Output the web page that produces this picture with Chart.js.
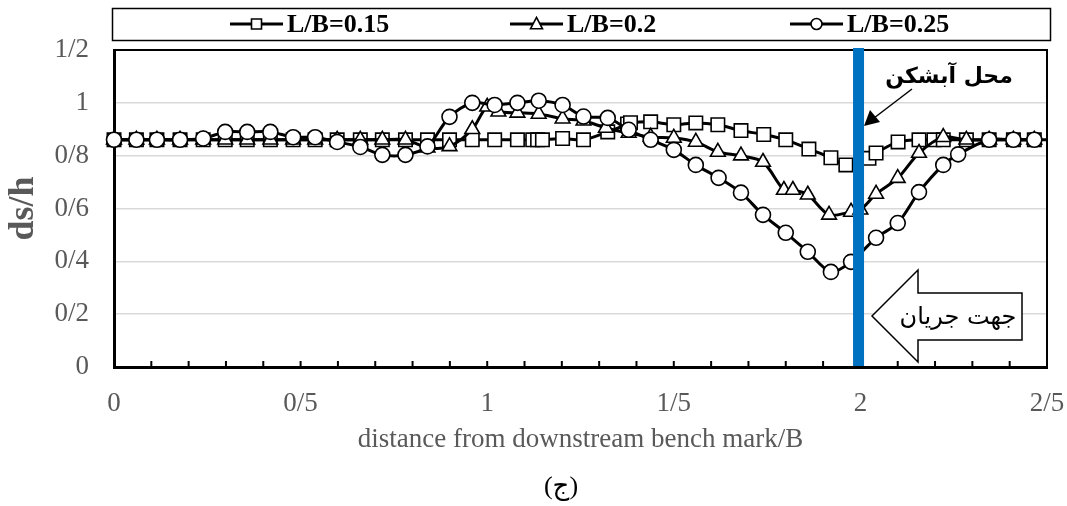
<!DOCTYPE html>
<html>
<head>
<meta charset="utf-8">
<script src="https://cdn.jsdelivr.net/npm/chart.js@4.4.1/dist/chart.umd.min.js"></script>
<style>
  html, body { margin: 0; padding: 0; background: #fff; }
</style>
</head>
<body>
<canvas id="scourChart" width="1067" height="506"></canvas>
<script>
// L/B = 0.15 (squares)
const xLB015 = [0, 0.06, 0.115, 0.177, 0.239, 0.298, 0.357, 0.419, 0.48, 0.539, 0.598, 0.66, 0.719, 0.781,
  0.84, 0.899, 0.96, 1.02, 1.081, 1.122, 1.135, 1.148, 1.202, 1.258, 1.323, 1.376, 1.384, 1.438, 1.5,
  1.559, 1.618, 1.68, 1.741, 1.8, 1.862, 1.921, 1.961, 2.023, 2.042, 2.101, 2.157, 2.197, 2.222, 2.284,
  2.345, 2.41, 2.466, 2.5];
const yLB015 = [0.86, 0.86, 0.86, 0.86, 0.86, 0.86, 0.86, 0.86, 0.86, 0.86, 0.86, 0.86, 0.86, 0.86,
  0.86, 0.86, 0.86, 0.86, 0.86, 0.86, 0.86, 0.86, 0.865, 0.86, 0.89, 0.92, 0.925, 0.928, 0.917,
  0.924, 0.917, 0.895, 0.88, 0.86, 0.825, 0.792, 0.765, 0.79, 0.81, 0.852, 0.86, 0.86, 0.86, 0.86,
  0.86, 0.86, 0.86, 0.86];

// L/B = 0.2 (triangles)
const xLB02 = [0, 0.06, 0.115, 0.177, 0.239, 0.298, 0.357, 0.419, 0.48, 0.539, 0.598, 0.66, 0.719, 0.781,
  0.84, 0.899, 0.96, 1.0, 1.03, 1.081, 1.138, 1.202, 1.258, 1.318, 1.379, 1.438, 1.5, 1.559, 1.618,
  1.68, 1.739, 1.795, 1.819, 1.859, 1.916, 1.975, 2.0, 2.042, 2.1, 2.157, 2.222, 2.284, 2.345, 2.41, 2.466];
const yLB02 = [0.86, 0.86, 0.86, 0.86, 0.86, 0.86, 0.86, 0.86, 0.86, 0.86, 0.86, 0.86, 0.86, 0.86,
  0.83, 0.835, 0.9, 0.985, 0.966, 0.962, 0.958, 0.94, 0.932, 0.905, 0.886, 0.871, 0.867, 0.852, 0.814,
  0.8, 0.776, 0.67, 0.67, 0.652, 0.576, 0.587, 0.595, 0.655, 0.715, 0.81, 0.87, 0.86, 0.86, 0.86, 0.86];

// L/B = 0.25 (circles)
const xLB025 = [0, 0.06, 0.115, 0.177, 0.239, 0.298, 0.357, 0.419, 0.48, 0.539, 0.598, 0.66, 0.719, 0.781,
  0.84, 0.899, 0.96, 1.02, 1.081, 1.138, 1.202, 1.258, 1.323, 1.379, 1.438, 1.5, 1.559, 1.62, 1.68,
  1.739, 1.8, 1.859, 1.921, 1.975, 2.042, 2.1, 2.157, 2.222, 2.262, 2.345, 2.41, 2.466];
const yLB025 = [0.86, 0.86, 0.86, 0.86, 0.865, 0.89, 0.89, 0.89, 0.87, 0.87, 0.852, 0.833, 0.803, 0.803,
  0.835, 0.947, 1.0, 0.992, 1.0, 1.008, 0.992, 0.948, 0.943, 0.898, 0.86, 0.822, 0.765, 0.716, 0.66,
  0.576, 0.508, 0.436, 0.36, 0.398, 0.489, 0.545, 0.662, 0.765, 0.805, 0.86, 0.86, 0.86];

const seriesLabels = ['L/B=0.15', 'L/B=0.2', 'L/B=0.25'];
const xTickLabels = ['0', '0/5', '1', '1/5', '2', '2/5'];
const yTickLabels = ['0', '0/2', '0/4', '0/6', '0/8', '1', '1/2'];
const xTitle = 'distance from downstream bench mark/B';
const yTitle = 'ds/h';
const panelLabel = '(ج)';
const weirLabel = 'محل آبشکن';
const flowLabel = 'جهت جریان';
const weirX = 1.995;

const serif = '"Liberation Serif", "Times New Roman", "DejaVu Sans", serif';
const gray = '#595959';

function toPoints(xs, ys) {
  return xs.map((x, i) => ({ x: x, y: ys[i] }));
}

function marker(ctx, style, x, y, r) {
  ctx.beginPath();
  if (style === 'rect') {
    ctx.rect(x - r, y - r, 2 * r, 2 * r);
  } else if (style === 'triangle') {
    ctx.moveTo(x, y - r * 1.1);
    ctx.lineTo(x + r, y + r * 0.8);
    ctx.lineTo(x - r, y + r * 0.8);
    ctx.closePath();
  } else {
    ctx.arc(x, y, r, 0, Math.PI * 2);
  }
  ctx.fillStyle = '#fff';
  ctx.fill();
  ctx.lineWidth = 1.6;
  ctx.strokeStyle = '#000';
  ctx.stroke();
}

const decorations = {
  id: 'decorations',
  beforeDraw(chart) {
    const ctx = chart.ctx;
    ctx.save();
    ctx.fillStyle = '#fff';
    ctx.fillRect(0, 0, chart.width, chart.height);
    ctx.restore();
  },
  afterDatasetsDraw(chart) {
    const { ctx, chartArea: a, scales: { x } } = chart;
    ctx.save();

    // top / right frame
    ctx.strokeStyle = '#000';
    ctx.lineWidth = 2;
    ctx.beginPath();
    ctx.moveTo(a.left, a.top);
    ctx.lineTo(a.right, a.top);
    ctx.lineTo(a.right, a.bottom);
    ctx.stroke();

    // minor ticks every 0.1, pointing up into the plot
    ctx.lineWidth = 2;
    for (let i = 1; i <= 24; i++) {
      const px = x.getPixelForValue(i / 10);
      ctx.beginPath();
      ctx.moveTo(px, a.bottom);
      ctx.lineTo(px, a.bottom - 6);
      ctx.stroke();
    }

    // weir location (blue bar)
    const wx = x.getPixelForValue(weirX);
    ctx.fillStyle = '#0070C0';
    ctx.fillRect(wx - 5.5, a.top - 2, 11, a.bottom - a.top + 1);

    // weir label + arrow
    ctx.fillStyle = '#000';
    ctx.font = 'bold 22px "DejaVu Sans", sans-serif';
    ctx.textAlign = 'center';
    ctx.textBaseline = 'middle';
    ctx.fillText(weirLabel, 949, 77);
    ctx.lineWidth = 1.5;
    ctx.beginPath();
    ctx.moveTo(912, 89);
    ctx.lineTo(874, 118);
    ctx.stroke();
    ctx.beginPath();
    ctx.moveTo(864, 126);
    ctx.lineTo(870, 110);
    ctx.lineTo(880, 122);
    ctx.closePath();
    ctx.fill();

    // flow direction block arrow
    ctx.beginPath();
    ctx.moveTo(872, 316);
    ctx.lineTo(918, 270);
    ctx.lineTo(918, 293);
    ctx.lineTo(1022, 293);
    ctx.lineTo(1022, 340);
    ctx.lineTo(918, 340);
    ctx.lineTo(918, 362);
    ctx.closePath();
    ctx.fillStyle = '#fff';
    ctx.fill();
    ctx.lineWidth = 1.5;
    ctx.strokeStyle = '#000';
    ctx.stroke();
    ctx.fillStyle = '#000';
    ctx.font = '24px "DejaVu Sans", sans-serif';
    ctx.fillText(flowLabel, 958, 318);
    ctx.restore();
  },
  afterDraw(chart) {
    const ctx = chart.ctx;
    ctx.save();
    // legend
    ctx.strokeStyle = '#000';
    ctx.lineWidth = 1.5;
    ctx.strokeRect(112.5, 8.5, 938, 32);
    const entryX = [230, 510, 790];
    const styles = ['rect', 'triangle', 'circle'];
    const sizes = [5, 6, 5.5];
    chart.data.datasets.forEach((ds, i) => {
      const x0 = entryX[i], ym = 24;
      ctx.strokeStyle = '#000';
      ctx.lineWidth = 3;
      ctx.beginPath();
      ctx.moveTo(x0, ym);
      ctx.lineTo(x0 + 53, ym);
      ctx.stroke();
      marker(ctx, styles[i], x0 + 26.5, ym, sizes[i]);
      ctx.fillStyle = '#000';
      ctx.font = 'bold 26px ' + serif;
      ctx.textAlign = 'left';
      ctx.textBaseline = 'middle';
      ctx.fillText(ds.label, x0 + 57, ym + 1);
    });
    // panel label
    ctx.fillStyle = '#000';
    ctx.font = '26px ' + serif;
    ctx.textAlign = 'center';
    ctx.textBaseline = 'middle';
    ctx.fillText(panelLabel, 561, 487);
    ctx.restore();
  }
};

const lastSquare = xLB015.length - 1;

new Chart(document.getElementById('scourChart'), {
  type: 'line',
  data: {
    datasets: [
      {
        label: seriesLabels[0],
        data: toPoints(xLB015, yLB015),
        pointStyle: 'rect',
        pointRadius: c => c.dataIndex === lastSquare ? 0 : 9.5,
        order: 3
      },
      {
        label: seriesLabels[1],
        data: toPoints(xLB02, yLB02),
        pointStyle: 'triangle',
        pointRadius: 8.5,
        order: 2
      },
      {
        label: seriesLabels[2],
        data: toPoints(xLB025, yLB025),
        pointStyle: 'circle',
        pointRadius: 7.5,
        order: 1
      }
    ].map(ds => Object.assign({
      borderColor: '#000',
      borderWidth: 3,
      backgroundColor: '#fff',
      pointBackgroundColor: '#fff',
      pointBorderColor: '#000',
      pointBorderWidth: 1.6,
      tension: 0.3,
      clip: false,
      fill: false
    }, ds))
  },
  options: {
    responsive: false,
    animation: false,
    devicePixelRatio: 1,
    layout: { padding: { top: 50, right: 0, bottom: 0, left: 0 } },
    plugins: {
      legend: { display: false },
      tooltip: { enabled: false }
    },
    scales: {
      x: {
        type: 'linear',
        min: 0,
        max: 2.5,
        afterFit: s => { s.height = 139; s.paddingRight = 20; s.paddingLeft = 0; },
        ticks: {
          stepSize: 0.5,
          autoSkip: false,
          maxRotation: 0,
          padding: 21,
          color: gray,
          font: { family: serif, size: 27 },
          callback: (v, i) => xTickLabels[i]
        },
        grid: { display: false, drawTicks: false },
        border: { color: '#000', width: 3 },
        title: {
          display: true,
          text: xTitle,
          color: gray,
          font: { family: serif, size: 27 },
          padding: { top: 0, bottom: 50 }
        }
      },
      y: {
        min: 0,
        max: 1.2,
        afterFit: s => { s.width = 114; },
        ticks: {
          stepSize: 0.2,
          padding: 25,
          color: gray,
          font: { family: serif, size: 27 },
          callback: (v, i) => yTickLabels[i]
        },
        grid: { color: '#d9d9d9', lineWidth: 1.5, drawTicks: false },
        border: { color: '#000', width: 3 },
        title: {
          display: true,
          text: yTitle,
          color: gray,
          font: { family: serif, size: 36, weight: 'bold' },
          padding: { top: 2, bottom: 0 }
        }
      }
    }
  },
  plugins: [decorations]
});
</script>
</body>
</html>
